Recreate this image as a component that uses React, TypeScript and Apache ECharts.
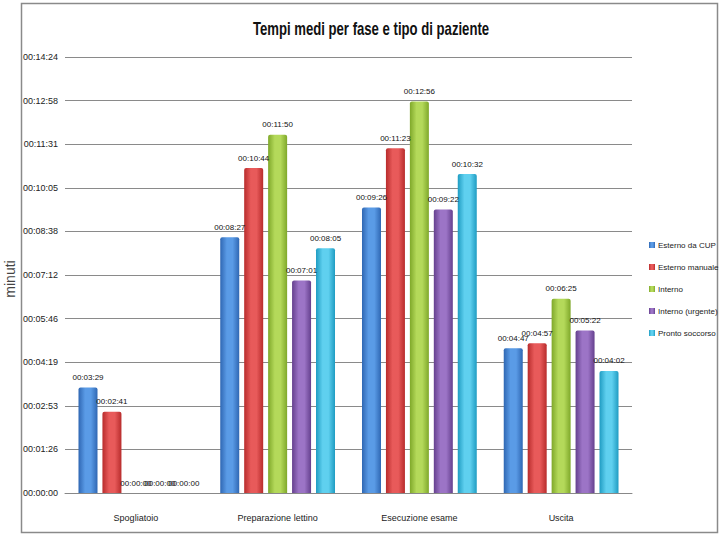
import React, { useEffect, useRef } from "react";
import * as echarts from "echarts";

const categories = ["Spogliatoio", "Preparazione lettino", "Esecuzione esame", "Uscita"];
const seriesNames = ["Esterno da CUP", "Esterno manuale", "Interno", "Interno (urgente)", "Pronto soccorso"];
// values in seconds
const esternoCup = [209, 507, 566, 287];
const esternoManuale = [161, 644, 683, 297];
const interno = [0, 710, 776, 385];
const internoUrgente = [0, 421, 562, 322];
const prontoSoccorso = [0, 485, 632, 242];
const yMax = 864;
const yInterval = 86.4;

const colors = [
  ["#2f67b3", "#5a9be6"],
  ["#b82c2c", "#e85a5a"],
  ["#7fa82a", "#b4d95a"],
  ["#65408e", "#9c74c6"],
  ["#1f9cc2", "#5fd0ef"],
];

const FONT = "'Liberation Sans', Arial, sans-serif";

function fmt(v: number): string {
  const s = Math.round(v);
  const h = Math.floor(s / 3600);
  const m = Math.floor((s % 3600) / 60);
  const sec = s % 60;
  const p = (n: number) => (n < 10 ? "0" + n : "" + n);
  return p(h) + ":" + p(m) + ":" + p(sec);
}

export default function App() {
  const ref = useRef<HTMLDivElement>(null);
  useEffect(() => {
    if (!ref.current) return;
    const chart = echarts.init(ref.current, null, { renderer: "svg" });
    const data = [esternoCup, esternoManuale, interno, internoUrgente, prontoSoccorso];
    chart.setOption({
      animation: false,
      backgroundColor: "#ffffff",
      graphic: [
        {
          type: "rect",
          shape: { x: 21.5, y: 3.5, width: 696, height: 529 },
          style: { fill: "none", stroke: "#8a8a8a", lineWidth: 1.5 },
          silent: true,
        },
        {
          type: "text",
          x: 371,
          y: 29,
          scaleX: 0.73,
          style: {
            text: "Tempi medi per fase e tipo di paziente",
            fontFamily: FONT,
            fontSize: 18,
            fontWeight: "bold",
            fill: "#111",
            align: "center",
            verticalAlign: "middle",
          },
        },
        {
          type: "text",
          x: 10,
          y: 279,
          rotation: Math.PI / 2,
          style: {
            text: "minuti",
            fontFamily: FONT,
            fontSize: 14,
            fill: "#444",
            align: "center",
            verticalAlign: "middle",
          },
        },
      ],
      legend: {
        orient: "vertical",
        left: 644,
        top: 236,
        itemWidth: 6,
        itemHeight: 6,
        itemGap: 14,
        icon: "rect",
        textStyle: { fontFamily: FONT, fontSize: 8, color: "#222", padding: [0, 0, 0, -2] },
        data: seriesNames,
      },
      grid: { left: 65, right: 88, top: 57, bottom: 47, containLabel: false },
      xAxis: {
        type: "category",
        data: categories,
        axisLine: { lineStyle: { color: "#888", width: 1 } },
        axisTick: { show: false },
        axisLabel: { fontFamily: FONT, fontSize: 9, color: "#222", margin: 20 },
      },
      yAxis: {
        type: "value",
        min: 0,
        max: yMax,
        interval: yInterval,
        axisLine: { show: false },
        axisTick: { show: false },
        splitLine: { lineStyle: { color: "#8a8a8a", width: 1 } },
        axisLabel: { fontFamily: FONT, fontSize: 9, color: "#222", margin: 7, formatter: (v: number) => fmt(v) },
      },
      series: seriesNames.map((name, i) => ({
        name,
        type: "bar",
        data: data[i],
        barWidth: 19,
        barGap: "26%",
        itemStyle: {
          color: new echarts.graphic.LinearGradient(0, 0, 1, 0, [
            { offset: 0, color: colors[i][0] },
            { offset: 0.35, color: colors[i][1] },
            { offset: 0.65, color: colors[i][1] },
            { offset: 1, color: colors[i][0] },
          ]),
          borderRadius: [2, 2, 0, 0],
        },
        label: {
          show: true,
          position: "top",
          distance: 6,
          fontFamily: FONT,
          fontSize: 8,
          color: "#111",
          formatter: (p: any) => fmt(p.value),
        },
      })),
      color: colors.map((c) => c[0]),
    });
    return () => chart.dispose();
  }, []);
  return <div ref={ref} style={{ width: 720, height: 540, position: "absolute", left: 0, top: 0 }} />;
}
